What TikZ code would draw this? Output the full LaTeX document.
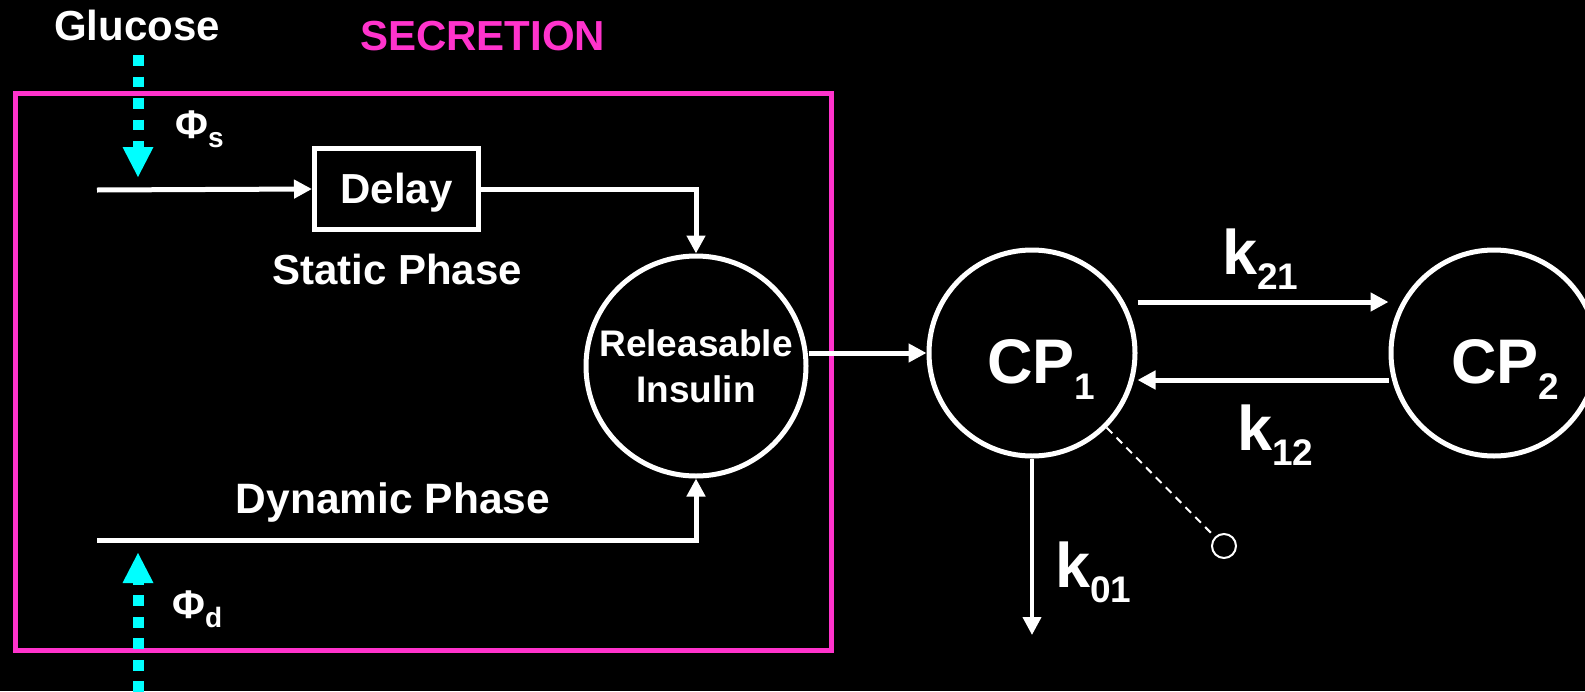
\documentclass[tikz,border=0pt]{standalone}
\usepackage{fontspec}
\setmainfont{Liberation Sans}
\usetikzlibrary{arrows.meta}
\definecolor{secpink}{RGB}{255,51,204}
\definecolor{flowcyan}{RGB}{0,255,255}
% lowered index: size, drop, text
\newcommand{\lowidx}[3]{\raisebox{-#2pt}{\fontsize{#1}{#1}\selectfont #3}}
\begin{document}
\begin{tikzpicture}[x=1pt,y=-1pt,
  wire/.style={draw=white, line width=5pt, -{Triangle[length=18pt,width=18pt]}},
  flow/.style={draw=flowcyan, line width=11pt, dash pattern=on 10.6pt off 10.9pt,
    -{Triangle[length=30pt,width=31pt,line width=0pt]}},
  compart/.style={circle, draw=white, line width=5pt, inner sep=0pt, minimum size=206pt},
  lbl/.style={text=white, font=\fontsize{42}{46}\selectfont\bfseries, inner sep=0pt},
  big/.style={text=white, font=\fontsize{63}{70}\selectfont\bfseries, inner sep=0pt},
  delaybox/.style={draw=white, line width=5pt, inner sep=0pt, minimum width=164pt,
    minimum height=81pt, text height=28pt, text depth=0pt, text=white,
    font=\fontsize{42}{46}\selectfont\bfseries},
]
% canvas
\fill[black] (0,0) rectangle (1585,691);
\useasboundingbox (0,0) rectangle (1585,691);

% secretion block
\node[draw=secpink, line width=5pt, inner sep=0pt, minimum width=815.5pt,
      minimum height=557pt] (secbox) at (423.25,372) {};
\node[lbl, anchor=base] (glucose) at (137,40) {Glucose};
\node[lbl, text=secpink, anchor=base west] (secr) at (360,50) {SECRETION};

\node[delaybox] (delay) at (396.5,189) {Delay};
\node[lbl, anchor=base] (static) at (397,284) {Static Phase};
\node[lbl, font=\fontsize{42.5}{46}\selectfont\bfseries, anchor=base] (dynamic) at (393,513) {Dynamic Phase};

\node[circle, draw=white, line width=5pt, minimum size=220pt, inner sep=0pt,
      text=white, align=center, font=\fontsize{37}{46}\selectfont\bfseries]
      (rel) at (696,366) {Releasable\\Insulin};

% glucose signals
\coordinate (gin) at (138,55);
\coordinate (gtip) at (138,177);
\draw[flow] (gin) -- (gtip);
\coordinate (dstart) at (138,692);
\coordinate (dtip) at (138,553);
\draw[flow] (dstart) -- (dtip);
\node[lbl, font=\fontsize{40}{46}\selectfont\bfseries, anchor=base west] (phis) at (175,138) {Φ\lowidx{28}{9}{s}};
\node[lbl, font=\fontsize{40}{46}\selectfont\bfseries, anchor=base west] (phid) at (172,618) {Φ\lowidx{28}{9}{d}};

% phases
\coordinate (sin) at (97,190);
\coordinate (din) at (97,540);
\draw[wire] (sin) -- (delay.west);
\draw[wire] (delay.east) -| (rel.north);
\draw[wire] (din) -| (rel.south);

% C-peptide kinetics
\node[compart] (cp1) at (1032,353) {};
\node[compart] (cp2) at (1494,353) {};
\node[big, anchor=base west] (cp1lbl) at (987,383) {CP\lowidx{37}{16}{1}};
\node[big, anchor=base west] (cp2lbl) at (1451,383) {CP\lowidx{37}{16}{2}};

\draw[wire] (rel.east |- cp1.west) -- (cp1.west);
\draw[wire] ([yshift=51pt]cp1.east) -- ([yshift=51pt]cp2.west);
\draw[wire] ([yshift=-27pt]cp2.west) -- ([yshift=-27pt]cp1.east);
\coordinate (kout) at (1032,635);
\draw[wire, line width=4pt] (cp1.south) -- (kout);

\node[big, anchor=base west] (k21) at (1222,274) {k\lowidx{37}{15}{21}};
\node[big, anchor=base west] (k12) at (1237,450) {k\lowidx{37}{15}{12}};
\node[big, anchor=base west] (k01) at (1055,587) {k\lowidx{37}{15}{01}};

% sampling point
\node[circle, draw=white, line width=2pt, minimum size=24pt, inner sep=0pt] (obs) at (1224,546) {};
\draw[white, line width=2pt, dash pattern=on 8pt off 6pt] (cp1.-45) -- (obs);
\end{tikzpicture}
\end{document}
